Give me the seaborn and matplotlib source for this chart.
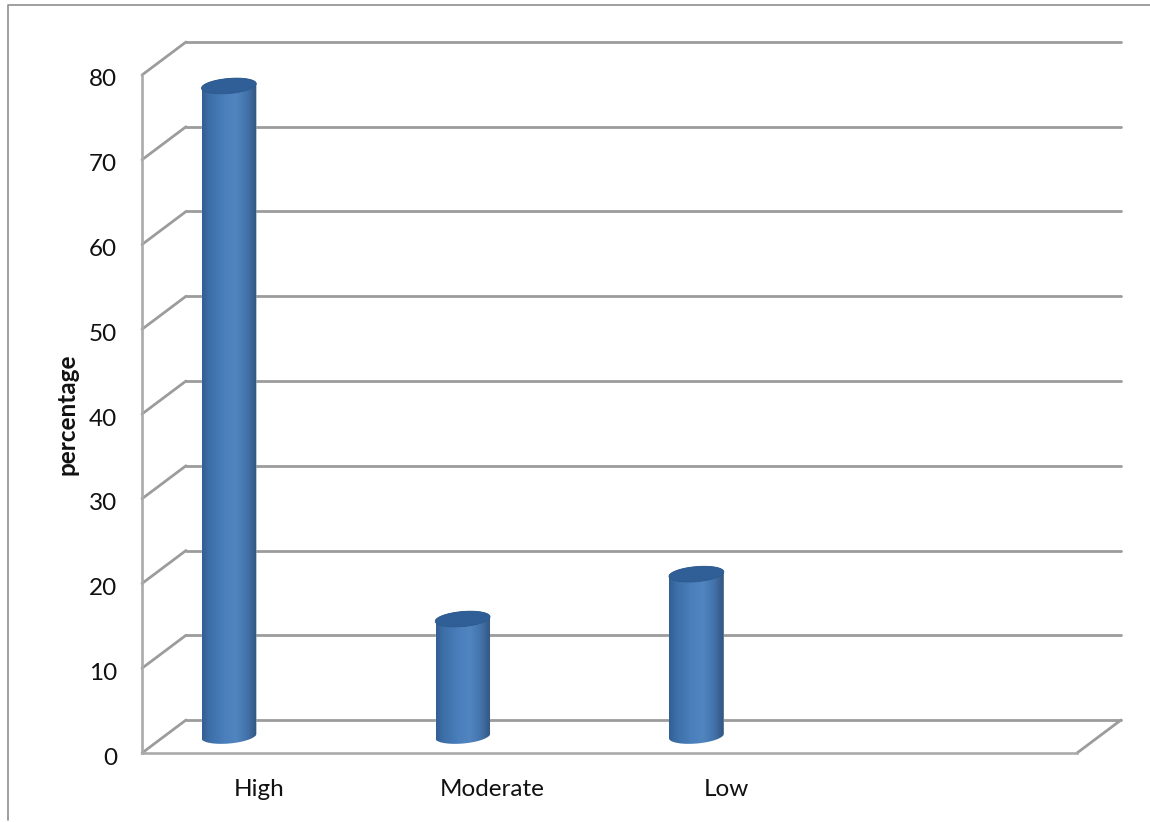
import matplotlib
matplotlib.use("Agg")
import matplotlib.pyplot as plt
import numpy as np
import pandas as pd
import seaborn as sns
from matplotlib.colors import LinearSegmentedColormap
from matplotlib.lines import Line2D
from matplotlib.patches import PathPatch, Polygon
from matplotlib.path import Path
from matplotlib.transforms import Affine2D, IdentityTransform

# Survey results
levels = ["High", "Moderate", "Low"]
percentages = [76.7, 13.8, 19.1]
axis_order = levels + [""]
y_ticks = [0, 10, 20, 30, 40, 50, 60, 70, 80]
y_title = "percentage"

W, H = 1150, 822
GRID = "#9c9c9c"
AXIS = "#aaaaaa"
TEXT = "#111111"
DEPTH = (44, 33)        # floor depth of the pseudo-3D box, pixels
BAR_SHIFT = (-30, 17)   # bar centre relative to the front plane, pixels
RX, RY, TILT = 27.5, 7.5, np.radians(5)

sns.set_theme(style="white")
plt.rcParams["font.family"] = ["Lato", "DejaVu Sans"]

fig = plt.figure(figsize=(W / 100, H / 100), dpi=100, facecolor="white")
ax = fig.add_axes([142 / W, (H - 753) / H, 935 / W, 678 / H])
ax.set_facecolor("none")

frame = pd.DataFrame({"level": levels, "percentage": percentages})
sns.barplot(data=frame, x="level", y="percentage", order=axis_order,
            width=0.232, color="#4377b2", saturation=1, ax=ax, zorder=3)

ax.set_xlim(-0.5, 3.5)
ax.set_ylim(0, 80)
ax.set_yticks(y_ticks)
ax.set_xlabel("")
ax.set_ylabel(y_title, fontsize=17.5, fontweight="bold", color=TEXT)
ax.yaxis.set_label_coords(-0.068, 0.50)
ax.tick_params(axis="y", length=0, pad=18, labelsize=17.5, labelcolor=TEXT)
ax.tick_params(axis="x", length=0, pad=18.5, labelsize=17.5, labelcolor=TEXT)
for side in ("top", "right"):
    ax.spines[side].set_visible(False)
for side in ("left", "bottom"):
    ax.spines[side].set_color(AXIS)
    ax.spines[side].set_linewidth(1.9)

# Numbers sit slightly below their gridline
for label in ax.get_yticklabels():
    label.set_transform(label.get_transform() + Affine2D().translate(0, -3))


def to_px(x, y):
    return ax.transData.transform((x, y))


def pixel_line(p, q, **kw):
    """Straight segment given in display coordinates."""
    line = Line2D([p[0], q[0]], [p[1], q[1]], transform=IdentityTransform(),
                  color=GRID, lw=2.0, clip_on=False, zorder=1,
                  solid_capstyle="round", **kw)
    ax.add_line(line)


# Back wall grid and the receding floor/wall edges
for tick in y_ticks:
    left = to_px(-0.5, tick)
    right = to_px(3.5, tick)
    back_left = left + DEPTH
    back_right = right + DEPTH
    pixel_line(back_left, back_right)
    pixel_line(left, back_left)
pixel_line(to_px(3.5, 0), to_px(3.5, 0) + DEPTH)

shade = LinearSegmentedColormap.from_list(
    "cylinder",
    [(0.0, "#335f92"), (0.12, "#3c6da6"), (0.40, "#4a7fbc"), (0.62, "#5085c0"),
     (0.82, "#4473ab"), (1.0, "#315680")],
)
ramp = np.linspace(0, 1, 128).reshape(1, -1)
shift = Affine2D().translate(*BAR_SHIFT)


def ellipse_arc(cx, cy, start, stop, n=60):
    t = np.linspace(start, stop, n)
    x, y = RX * np.cos(t), RY * np.sin(t)
    return np.column_stack([cx + x * np.cos(TILT) - y * np.sin(TILT),
                            cy + x * np.sin(TILT) + y * np.cos(TILT)])


# Turn every flat bar into a shaded cylinder with an elliptical cap
for bar in list(ax.patches):
    x0, width, height = bar.get_x(), bar.get_width(), bar.get_height()
    centre = x0 + width / 2
    base = to_px(centre, 0) + BAR_SHIFT
    top = to_px(centre, height) + BAR_SHIFT

    outline = np.vstack([ellipse_arc(*base, np.pi, 2 * np.pi),
                         ellipse_arc(*top, 0, np.pi)])
    body = Path(np.vstack([outline, outline[0]]), closed=True)
    clip = PathPatch(body, transform=IdentityTransform(), fc="none", ec="none")
    ax.add_patch(clip)

    bar.set_transform(ax.transData + shift)
    bar.set_clip_path(clip)

    image = ax.imshow(ramp, cmap=shade, aspect="auto", zorder=4,
                      extent=(x0, x0 + width, -3, height + 3),
                      interpolation="bilinear")
    image.set_transform(ax.transData + shift)
    image.set_clip_path(clip)

    ax.add_patch(Polygon(ellipse_arc(*top, 0, 2 * np.pi), closed=True,
                         transform=IdentityTransform(), fc="#2f5f96",
                         ec="#2d5a8c", lw=0.6, zorder=5))

ax.set_xlim(-0.5, 3.5)
ax.set_ylim(0, 80)

# Chart-area border: only the top and left edges fall inside the canvas
fig.add_artist(Line2D([8 / W, 8 / W, 1], [(H - 820) / H, (H - 5.5) / H, (H - 5.5) / H],
                      transform=fig.transFigure, color="#8f8f8f", lw=1.2))

fig.savefig("out.png", dpi=100, facecolor="white")
